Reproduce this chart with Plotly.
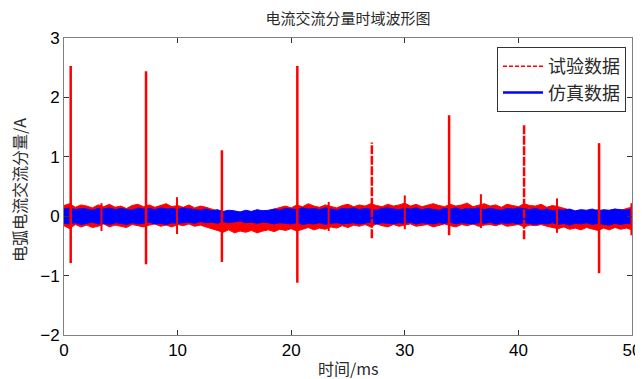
import plotly.graph_objects as go

# ---- data ----
# time grid of the noise envelopes (ms), step 0.5
t_env = [i * 0.5 for i in range(101)]

red_upper = [0.18, 0.21, 0.15, 0.19, 0.17, 0.14, 0.19, 0.16, 0.20, 0.15,
             0.17, 0.13, 0.18, 0.20, 0.16, 0.19, 0.15, 0.18, 0.21, 0.16,
             0.18, 0.15, 0.19, 0.14, 0.17, 0.15, 0.12, 0.10, 0.06, 0.08,
             0.05, 0.07, 0.04, 0.08, 0.05, 0.09, 0.07, 0.12, 0.15, 0.17,
             0.14, 0.19, 0.16, 0.21, 0.17, 0.15, 0.19, 0.16, 0.14, 0.18,
             0.20, 0.16, 0.19, 0.17, 0.21, 0.18, 0.16, 0.20, 0.17, 0.19,
             0.22, 0.17, 0.20, 0.16, 0.19, 0.21, 0.18, 0.16, 0.20, 0.17,
             0.19, 0.22, 0.16, 0.18, 0.21, 0.17, 0.19, 0.15, 0.20, 0.18,
             0.16, 0.21, 0.18, 0.17, 0.20, 0.15, 0.18, 0.16, 0.13, 0.11,
             0.08, 0.10, 0.06, 0.09, 0.11, 0.07, 0.10, 0.12, 0.09, 0.13,
             0.15]
red_lower = [-0.16, -0.21, -0.14, -0.18, -0.15, -0.19, -0.17, -0.13, -0.18, -0.15,
             -0.17, -0.19, -0.14, -0.16, -0.18, -0.15, -0.13, -0.17, -0.15, -0.18,
             -0.14, -0.16, -0.13, -0.17, -0.15, -0.18, -0.21, -0.24, -0.27, -0.23,
             -0.28, -0.25, -0.27, -0.24, -0.28, -0.25, -0.23, -0.26, -0.22, -0.24,
             -0.21, -0.25, -0.22, -0.19, -0.23, -0.20, -0.22, -0.18, -0.20, -0.16,
             -0.19, -0.15, -0.17, -0.14, -0.18, -0.13, -0.16, -0.18, -0.14, -0.17,
             -0.15, -0.13, -0.17, -0.15, -0.14, -0.18, -0.15, -0.13, -0.16, -0.18,
             -0.14, -0.16, -0.13, -0.17, -0.15, -0.14, -0.16, -0.13, -0.17, -0.15,
             -0.14, -0.18, -0.15, -0.16, -0.14, -0.17, -0.19, -0.21, -0.18, -0.22,
             -0.20, -0.23, -0.19, -0.22, -0.24, -0.20, -0.23, -0.19, -0.22, -0.20,
             -0.23]
blue_upper = [0.12, 0.14, 0.11, 0.13, 0.12, 0.10, 0.13, 0.12, 0.14, 0.11,
              0.13, 0.12, 0.10, 0.14, 0.12, 0.13, 0.11, 0.14, 0.12, 0.13,
              0.11, 0.14, 0.12, 0.11, 0.10, 0.12, 0.09, 0.11, 0.08, 0.10,
              0.09, 0.07, 0.10, 0.08, 0.11, 0.09, 0.10, 0.12, 0.10, 0.13,
              0.12, 0.11, 0.14, 0.12, 0.13, 0.11, 0.14, 0.12, 0.10, 0.13,
              0.12, 0.14, 0.11, 0.13, 0.12, 0.10, 0.13, 0.14, 0.12, 0.11,
              0.13, 0.12, 0.14, 0.11, 0.13, 0.12, 0.10, 0.13, 0.12, 0.14,
              0.11, 0.13, 0.12, 0.14, 0.11, 0.13, 0.12, 0.10, 0.13, 0.12,
              0.14, 0.12, 0.11, 0.13, 0.10, 0.12, 0.09, 0.11, 0.10, 0.12,
              0.09, 0.11, 0.10, 0.12, 0.09, 0.11, 0.10, 0.12, 0.11, 0.10,
              0.12]
blue_lower = [-0.12, -0.13, -0.11, -0.14, -0.12, -0.10, -0.13, -0.12, -0.14, -0.11,
              -0.12, -0.14, -0.11, -0.13, -0.12, -0.10, -0.13, -0.12, -0.14, -0.11,
              -0.12, -0.11, -0.10, -0.12, -0.09, -0.11, -0.10, -0.12, -0.09, -0.11,
              -0.10, -0.08, -0.11, -0.10, -0.12, -0.10, -0.11, -0.13, -0.11, -0.12,
              -0.13, -0.11, -0.14, -0.12, -0.13, -0.11, -0.14, -0.12, -0.11, -0.13,
              -0.12, -0.11, -0.13, -0.12, -0.10, -0.13, -0.11, -0.12, -0.13, -0.11,
              -0.12, -0.10, -0.13, -0.11, -0.12, -0.13, -0.11, -0.12, -0.10, -0.13,
              -0.11, -0.12, -0.13, -0.11, -0.12, -0.10, -0.13, -0.11, -0.12, -0.11,
              -0.13, -0.11, -0.12, -0.14, -0.12, -0.13, -0.11, -0.14, -0.12, -0.15,
              -0.12, -0.13, -0.11, -0.14, -0.12, -0.13, -0.15, -0.12, -0.14, -0.12,
              -0.13]

# large spikes of the test data (solid-looking ones)
spike_t = [0.59, 7.22, 13.9, 20.54, 33.9, 47.1]
spike_hi = [2.53, 2.44, 1.11, 2.53, 1.70, 1.23]
spike_lo = [-0.79, -0.81, -0.77, -1.12, -0.32, -0.96]
# large spikes drawn visibly dashed
dspike_t = [27.1, 40.5]
dspike_hi = [1.24, 1.55]
dspike_lo = [-0.37, -0.39]
# small spikes inside the noise band
small_t = [3.3, 9.95, 23.3, 30.0, 36.7, 43.4, 49.95]
small_hi = [0.22, 0.32, 0.24, 0.35, 0.37, 0.30, 0.22]
small_lo = [-0.25, -0.30, -0.25, -0.22, -0.20, -0.28, -0.32]

x_ticks = [0, 10, 20, 30, 40, 50]
y_ticks = [-2, -1, 0, 1, 2, 3]

title_text = "电流交流分量时域波形图"
x_title = "时间/ms"
y_title = "电弧电流交流分量/A"
name_test = "试验数据"
name_sim = "仿真数据"

RED = "#ff0000"
BLUE = "#0000ff"
TXT = "#2a2a2a"
CJK = "Noto Sans CJK SC"

# the page body has an 8px margin; the figure is sized so that the
# plot area lands at x 64..632, y 38..335 of the 643x379 window
W, H = 635, 371
OFF = 8


def segs(ts, his, los):
    xs, ys = [], []
    for t, h, l in zip(ts, his, los):
        xs += [t, t, None]
        ys += [l, h, None]
    return xs, ys


fig = go.Figure()

# legend entries (first so they are listed in this order)
fig.add_trace(go.Scatter(x=[None], y=[None], mode="lines", name=name_test,
                         line=dict(color=RED, width=1.5, dash="4px,2px")))
fig.add_trace(go.Scatter(x=[None], y=[None], mode="lines", name=name_sim,
                         line=dict(color=BLUE, width=2.5)))

# red noise band
fig.add_trace(go.Scatter(x=t_env, y=red_upper, mode="lines",
                         line=dict(color=RED, width=1), showlegend=False,
                         hoverinfo="skip"))
fig.add_trace(go.Scatter(x=t_env, y=red_lower, mode="lines", fill="tonexty",
                         fillcolor=RED, line=dict(color=RED, width=1),
                         showlegend=False, hoverinfo="skip"))
# blue noise band
fig.add_trace(go.Scatter(x=t_env, y=blue_upper, mode="lines",
                         line=dict(color=BLUE, width=1), showlegend=False,
                         hoverinfo="skip"))
fig.add_trace(go.Scatter(x=t_env, y=blue_lower, mode="lines", fill="tonexty",
                         fillcolor=BLUE, line=dict(color=BLUE, width=1),
                         showlegend=False, hoverinfo="skip"))

# spikes
sx, sy = segs(spike_t, spike_hi, spike_lo)
fig.add_trace(go.Scatter(x=sx, y=sy, mode="lines",
                         line=dict(color=RED, width=2.5), showlegend=False))
dx, dy = segs(dspike_t, dspike_hi, dspike_lo)
fig.add_trace(go.Scatter(x=dx, y=dy, mode="lines",
                         line=dict(color=RED, width=2.5, dash="9px,1.5px"),
                         showlegend=False))
mx, my = segs(small_t, small_hi, small_lo)
fig.add_trace(go.Scatter(x=mx, y=my, mode="lines",
                         line=dict(color=RED, width=2), showlegend=False))

axis_common = dict(showgrid=False, zeroline=False, showline=True,
                   linecolor="#808080", linewidth=1, mirror="ticks",
                   ticks="inside", ticklen=5, tickcolor="#333333",
                   automargin=False,
                   tickfont=dict(family="Liberation Sans, Arial", size=17,
                                 color="#000000"))

fig.update_layout(
    width=W, height=H,
    margin=dict(l=64 - OFF, r=643 - 632, t=38 - OFF, b=379 - 335,
                autoexpand=False),
    paper_bgcolor="white", plot_bgcolor="white",
    title=dict(text=title_text, x=(348 - OFF) / W, xanchor="center",
               y=1 - (19 - OFF) / H, yanchor="middle",
               font=dict(family=CJK, size=15, color=TXT)),
    xaxis=dict(range=[0, 50], tickvals=x_ticks, **axis_common),
    yaxis=dict(range=[-2, 3], tickvals=y_ticks, **axis_common),
    annotations=[
        dict(text=x_title, xref="paper", yref="paper",
             x=0.5, y=-(368 - 335) / 297, xanchor="center", yanchor="middle",
             showarrow=False, font=dict(family=CJK, size=16, color=TXT)),
        dict(text=y_title, xref="paper", yref="paper", textangle=-90,
             x=-(64 - 19) / 568, y=(335 - 190) / 297, xanchor="center",
             yanchor="middle", showarrow=False,
             font=dict(family=CJK, size=16, color=TXT)),
    ],
    legend=dict(x=(626 - 64) / 568, xanchor="right",
                y=(335 - 47) / 297, yanchor="top", traceorder="normal",
                bgcolor="white", bordercolor="#333333", borderwidth=1,
                font=dict(family=CJK, size=18, color=TXT),
                itemwidth=40, tracegroupgap=0),
    showlegend=True,
)

fig.write_html("out.html")
